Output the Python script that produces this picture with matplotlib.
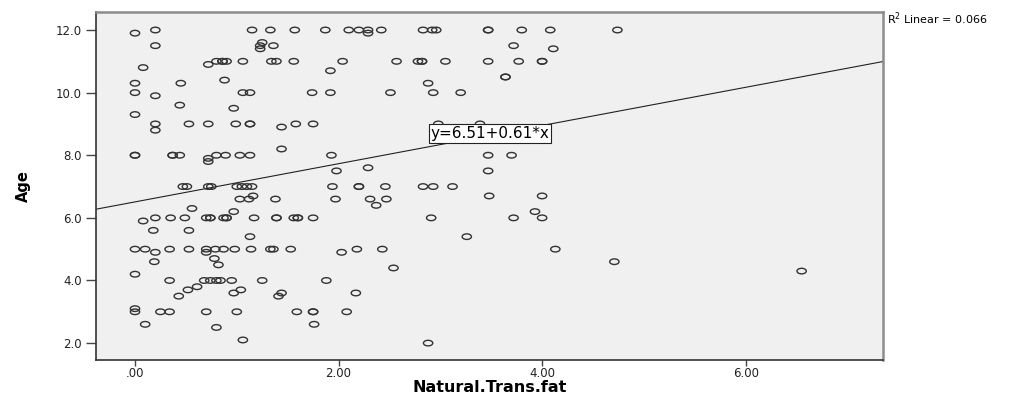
import numpy as np
import matplotlib
matplotlib.use("Agg")
import matplotlib.pyplot as plt
from matplotlib.path import Path
from matplotlib.transforms import Affine2D

# Scatter data, row by row (age value, then trans fat values)
trans_fat = [
    0.20, 1.15, 1.33, 1.57, 1.87, 2.10, 2.20, 2.29, 2.42, 2.83, 2.92, 2.96, 3.47, 3.47, 3.80, 4.08, 4.74,
    0.00, 2.29,
    0.20, 1.25, 1.23, 1.23, 1.36, 3.72, 4.11,
    0.80, 0.86, 0.86, 0.90, 1.06, 1.34, 1.39, 1.56, 2.04, 2.57, 2.78, 2.82, 2.82, 3.05, 3.47, 3.77, 4.00, 4.00,
    0.72, 0.08, 1.92, 3.64, 3.64, 0.88, 0.00, 0.45, 2.88,
    0.00, 1.06, 1.13, 1.74, 1.92, 2.51, 2.93, 3.20,
    0.20, 0.44, 0.97, 0.00,
    0.20, 0.53, 0.72, 0.99, 1.13, 1.13, 1.58, 1.75, 2.98, 3.39, 1.44, 0.20,
    1.44,
    0.00, 0.00, 0.37, 0.37, 0.44, 0.80, 0.89, 1.03, 1.13, 1.93, 3.47, 3.70, 0.72, 0.72,
    2.29, 1.98, 3.47,
    0.47, 0.51, 0.72, 0.75, 1.00, 1.05, 1.10, 1.15, 1.94, 2.20, 2.20, 2.46, 2.83, 2.93, 3.12,
    1.16, 3.48, 4.00,
    1.03, 1.12, 1.38, 1.97, 2.31, 2.47,
    2.37, 0.56, 0.97, 3.93,
    0.20, 0.35, 0.49, 0.70, 0.74, 0.74, 0.87, 0.90, 0.90, 1.17, 1.39, 1.39, 1.56, 1.60, 1.60, 1.75, 2.91, 3.72, 4.00,
    0.08, 0.18, 0.53, 1.13, 3.26,
    0.00, 0.10, 0.34, 0.53, 0.70, 0.79, 0.87, 0.98, 1.14, 1.33, 1.36, 1.53, 2.18, 2.43, 4.13,
    0.20, 0.70, 2.03,
    0.78, 0.19, 4.71, 0.82, 2.54, 6.55, 0.00,
    0.34, 0.68, 0.74, 0.80, 0.84, 0.95, 1.25, 1.88,
    0.61, 0.52, 1.04, 0.97, 1.44, 2.17, 0.43, 1.41,
    0.00, 0.25, 0.34, 0.70, 1.00, 1.59, 1.75, 1.75, 2.08, 0.00,
    0.10, 1.76, 0.80, 1.06, 2.88,
]
age = [
    12.0, 12.0, 12.0, 12.0, 12.0, 12.0, 12.0, 12.0, 12.0, 12.0, 12.0, 12.0, 12.0, 12.0, 12.0, 12.0, 12.0,
    11.9, 11.9,
    11.5, 11.6, 11.5, 11.4, 11.5, 11.5, 11.4,
    11.0, 11.0, 11.0, 11.0, 11.0, 11.0, 11.0, 11.0, 11.0, 11.0, 11.0, 11.0, 11.0, 11.0, 11.0, 11.0, 11.0, 11.0,
    10.9, 10.8, 10.7, 10.5, 10.5, 10.4, 10.3, 10.3, 10.3,
    10.0, 10.0, 10.0, 10.0, 10.0, 10.0, 10.0, 10.0,
    9.9, 9.6, 9.5, 9.3,
    9.0, 9.0, 9.0, 9.0, 9.0, 9.0, 9.0, 9.0, 9.0, 9.0, 8.9, 8.8,
    8.2,
    8.0, 8.0, 8.0, 8.0, 8.0, 8.0, 8.0, 8.0, 8.0, 8.0, 8.0, 8.0, 7.9, 7.8,
    7.6, 7.5, 7.5,
    7.0, 7.0, 7.0, 7.0, 7.0, 7.0, 7.0, 7.0, 7.0, 7.0, 7.0, 7.0, 7.0, 7.0, 7.0,
    6.7, 6.7, 6.7,
    6.6, 6.6, 6.6, 6.6, 6.6, 6.6,
    6.4, 6.3, 6.2, 6.2,
    6.0, 6.0, 6.0, 6.0, 6.0, 6.0, 6.0, 6.0, 6.0, 6.0, 6.0, 6.0, 6.0, 6.0, 6.0, 6.0, 6.0, 6.0, 6.0,
    5.9, 5.6, 5.6, 5.4, 5.4,
    5.0, 5.0, 5.0, 5.0, 5.0, 5.0, 5.0, 5.0, 5.0, 5.0, 5.0, 5.0, 5.0, 5.0, 5.0,
    4.9, 4.9, 4.9,
    4.7, 4.6, 4.6, 4.5, 4.4, 4.3, 4.2,
    4.0, 4.0, 4.0, 4.0, 4.0, 4.0, 4.0, 4.0,
    3.8, 3.7, 3.7, 3.6, 3.6, 3.6, 3.5, 3.5,
    3.0, 3.0, 3.0, 3.0, 3.0, 3.0, 3.0, 3.0, 3.0, 3.1,
    2.6, 2.6, 2.5, 2.1, 2.0,
]

# Fit line as printed on the chart
intercept = 6.51
slope = 0.61
r_squared = 0.066

x_ticks = [0, 2, 4, 6]
x_tick_labels = [".00", "2.00", "4.00", "6.00"]
y_ticks = [2, 4, 6, 8, 10, 12]
y_tick_labels = ["2.0", "4.0", "6.0", "8.0", "10.0", "12.0"]

# SPSS-like flattened circle marker (the original image is stretched horizontally)
ellipse = Path.unit_circle().transformed(Affine2D().scale(1.0, 0.6))

fig = plt.figure(figsize=(10.28, 3.95), dpi=100)
ax = fig.add_axes([0.0934, 0.0886, 0.7656, 0.881])
ax.set_facecolor("#f0f0f0")

ax.scatter(trans_fat, age, marker=ellipse, s=45, facecolors="none",
           edgecolors="#333333", linewidths=1.0, zorder=3)

x_lo, x_hi = -0.383, 7.35
ax.set_xlim(x_lo, x_hi)
ax.set_ylim(1.46, 12.575)

line_x = np.array([x_lo, x_hi])
ax.plot(line_x, intercept + slope * line_x, color="#222222", lw=0.8, zorder=2)

ax.text(3.49, 8.69, f"y={intercept:.2f}+{slope:.2f}*x", ha="center", va="center",
        fontsize=11, zorder=4,
        bbox=dict(boxstyle="square,pad=0.12", facecolor="white", edgecolor="#222222", lw=0.8))

fig.text(0.8625, 0.952, f"R$^2$ Linear = {r_squared:.3f}", fontsize=8, ha="left", va="center")

ax.set_xticks(x_ticks)
ax.set_xticklabels(x_tick_labels, fontsize=8.5, color="#222222")
ax.set_yticks(y_ticks)
ax.set_yticklabels(y_tick_labels, fontsize=8.5, color="#222222")
ax.tick_params(direction="out", length=7, width=1, color="#444444", pad=3)
ax.tick_params(axis="x", length=4, pad=1)

for side in ["left", "bottom"]:
    ax.spines[side].set_color("#333333")
    ax.spines[side].set_linewidth(1.2)
for side in ["top", "right"]:
    ax.spines[side].set_color("#8c8c8c")
    ax.spines[side].set_linewidth(1.8)

ax.set_xlabel("Natural.Trans.fat", fontsize=11.5, fontweight="bold", labelpad=0)
ax.set_ylabel("Age", fontsize=10.5, fontweight="bold", labelpad=18)

fig.savefig("out.png", dpi=100, facecolor="white")
